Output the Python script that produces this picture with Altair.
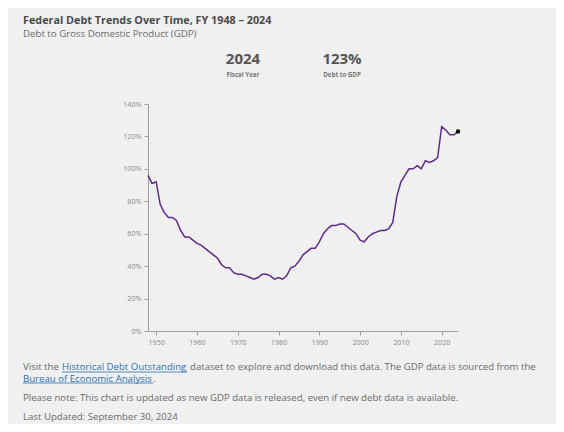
import altair as alt
import pandas as pd

years = list(range(1948, 2025))
debt_pct = [96, 91, 92, 78, 73, 70, 70, 68, 62, 58,
            58, 56, 54, 53, 51, 49, 47, 45, 41, 39,
            39, 36, 35, 35, 34, 33, 32, 33, 35, 35,
            34, 32, 33, 32, 34, 39, 40, 43, 47, 49,
            51, 51, 55, 60, 63, 65, 65, 66, 66, 64,
            62, 60, 56, 55, 58, 60, 61, 62, 62, 63,
            67, 83, 92, 96, 100, 100, 102, 100, 105, 104,
            105, 107, 126, 124, 121, 121, 123]
x_ticks = [1950, 1960, 1970, 1980, 1990, 2000, 2010, 2020]
y_ticks = [0, 20, 40, 60, 80, 100, 120, 140]

df = pd.DataFrame({"year": years, "debt": debt_pct})
last = df.tail(1)

FONT = "Open Sans"
GRAY_T = "#4a4a4a"
GRAY_S = "#6b6b6b"
LINK = "#2b70b3"

x = alt.X("year:Q", scale=alt.Scale(domain=[1948, 2024], nice=False, zero=False),
          axis=alt.Axis(values=x_ticks, format="d", title=None))
y = alt.Y("debt:Q", scale=alt.Scale(domain=[0, 140], nice=False),
          axis=alt.Axis(values=y_ticks, labelExpr="datum.value + '%'", title=None))

line = alt.Chart(df).mark_line(color="#5e2b8c", strokeWidth=1.5).encode(x=x, y=y)
dot = alt.Chart(last).mark_point(filled=True, color="#111111", size=20, opacity=1).encode(x=x, y=y)

def txt(s, px, py, size, color, weight="normal", align="left"):
    return alt.Chart(pd.DataFrame({"t": [s]})).mark_text(
        font=FONT, fontSize=size, color=color, fontWeight=weight,
        align=align, baseline="middle").encode(
        text="t:N", x=alt.value(px), y=alt.value(py))

def uline(x1, x2, py):
    return alt.Chart(pd.DataFrame({"a": [0]})).mark_rule(color=LINK, strokeWidth=0.8).encode(
        x=alt.value(x1), x2=alt.value(x2), y=alt.value(py))

stat_year = str(years[-1])
stat_pct = f"{debt_pct[-1]}%"

ox, oy = 148, 104
def X(a):
    return a - ox
def Y(a):
    return a - oy

FS = 9.65
layers = [
    line, dot,
    txt("Federal Debt Trends Over Time, FY 1948 – 2024", X(23), Y(21), 10.8, GRAY_T, "bold"),
    txt("Debt to Gross Domestic Product (GDP)", X(23), Y(34), 9.7, GRAY_S),
    txt(stat_year, X(243), Y(59), 15, "#555555", "bold", "center"),
    txt("Fiscal Year", X(243), Y(75), 6.2, "#777777", "bold", "center"),
    txt(stat_pct, X(342), Y(59), 15, "#555555", "bold", "center"),
    txt("Debt to GDP", X(342), Y(75), 6.2, "#777777", "bold", "center"),
    txt("Visit the", X(23), Y(367), FS, GRAY_S),
    txt("Historical Debt Outstanding", X(62), Y(367), FS, LINK),
    uline(X(62), X(187), Y(372)),
    txt("dataset to explore and download this data. The GDP data is sourced from the", X(190), Y(367), FS, GRAY_S),
    txt("Bureau of Economic Analysis", X(23), Y(378.5), FS, LINK),
    uline(X(23), X(153), Y(383)),
    txt(".", X(153), Y(378.5), FS, GRAY_S),
    txt("Please note: This chart is updated as new GDP data is released, even if new debt data is available.",
        X(23), Y(397.5), FS, GRAY_S),
    txt("Last Updated: September 30, 2024", X(23), Y(417), FS, GRAY_S),
]

chart = alt.layer(*layers).properties(
    width=310, height=227,
    padding={"left": 140, "top": 96, "right": 98, "bottom": 93},
    autosize=alt.AutoSizeParams(type="none"),
    background="#f0f0f0",
).configure_view(stroke=None).configure_axis(
    grid=False, domainColor="#a0a0a0", tickColor="#a0a0a0", labelColor="#8a8a8a",
    labelFont=FONT, labelFontSize=7.2, tickSize=4, labelPadding=3, domainWidth=1,
)

chart.save("out.html", embed_options={"renderer": "svg", "actions": False})
